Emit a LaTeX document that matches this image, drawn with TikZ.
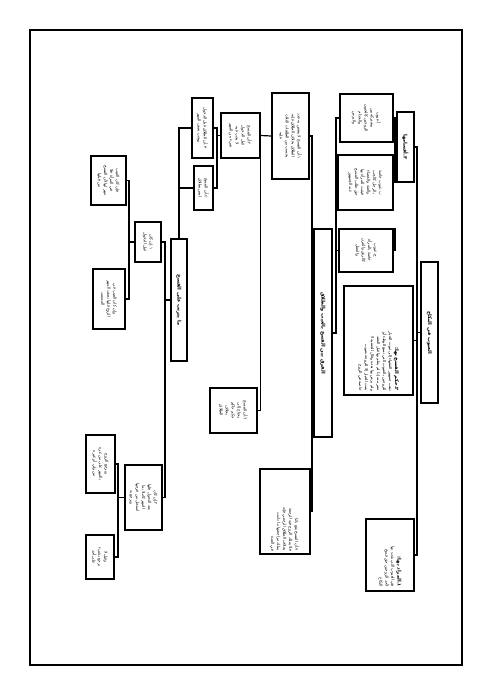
\documentclass[tikz,border=0pt]{standalone}
\usepackage{graphicx}
\usepackage{fontspec}
\newfontfamily\arabicfont[Script=Arabic]{DejaVu Sans}
\TeXXeTstate=1
\newcommand{\arl}[1]{\beginR #1\endR}
% text turned a quarter clockwise, #2 = length along the line
\newcommand{\sidetext}[3][\centering]{\rotatebox{-90}{\begin{minipage}{#2}#1\arabicfont\fontsize{4}{6}\selectfont #3\end{minipage}}}
\newcommand{\sidehead}[3][5]{\rotatebox{-90}{\begin{minipage}{#2}\centering\arabicfont\bfseries\fontsize{#1}{7}\selectfont #3\end{minipage}}}
\newcommand{\boldline}[1]{{\bfseries\fontsize{5}{6}\selectfont\arl{#1}}}

\begin{document}
\begin{tikzpicture}[x=1pt, y=-1pt,
    box/.style={draw, rectangle, line width=1.4pt, inner sep=0pt},
    link/.style={line width=1.2pt}]
    \useasboundingbox (0,0) rectangle (491,694);
    \draw[line width=1.3pt] (30,30) rectangle (462,665);

    % Nodes: first tree
    \node[box, minimum width=17pt, minimum height=141pt] (faults) at (429.5,332.5) {\sidehead{130pt}{\arl{العيوب في النكاح}}};
    \node[box, minimum width=48pt, minimum height=72pt] (meaning) at (390,555) {\sidetext[\raggedleft]{64pt}{\boldline{١.المراد بها:}\\ \arl{هي العيوب التي يثبت بها}\\ \arl{لأحد الزوجين حق فسخ}\\ \arl{النكاح}}};
    \node[box, minimum width=69pt, minimum height=109pt] (ruling) at (378.5,340.5) {\sidetext[\raggedleft]{101pt}{\boldline{٢.حكم الفسخ بها:}\\ \arl{ذهب جمهور الفقهاء إلى ثبوت الخيار}\\ \arl{للزوجين بالعيوب التي تمنع الوطء أو}\\ \arl{تنفر منه إذا لم يعلم بها قبل العقد}\\ \arl{ولم يرض بها بعده وقال الحنفية لا}\\ \arl{يثبت الخيار إلا للزوجة بعيوب}\\ \arl{خاصة في الزوج}}};
    \node[box, minimum width=17pt, minimum height=70pt] (kinds) at (405.5,147) {\sidehead{62pt}{\arl{٣.أقسامها}}};
    \node[box, minimum width=53pt, minimum height=48pt] (kindA) at (366.5,118) {\sidetext{42pt}{\arl{أ.عيوب}\\ \arl{مشتركة بين}\\ \arl{الزوجين كالجنون}\\ \arl{والجذام}\\ \arl{والبرص}}};
    \node[box, minimum width=55pt, minimum height=55pt] (kindB) at (365.5,182.5) {\sidetext{49pt}{\arl{ب.عيوب خاصة}\\ \arl{بالرجل كالجب}\\ \arl{والعنة والخصاء}\\ \arl{فيثبت للمرأة بها}\\ \arl{حق طلب الفسخ}\\ \arl{عند الجمهور}}};
    \node[box, minimum width=54pt, minimum height=43pt] (kindC) at (366,250.5) {\sidetext{37pt}{\arl{ج.عيوب}\\ \arl{خاصة بالمرأة}\\ \arl{كالرتق والقرن}\\ \arl{والعفل}}};

    % Nodes: second tree
    \node[box, minimum width=18pt, minimum height=208pt] (diff) at (323,333) {\sidehead{198pt}{\arl{الفرق بين الفسخ بالعيب والطلاق}}};
    \node[box, minimum width=37pt, minimum height=86pt] (diffA) at (290.5,136) {\sidetext{80pt}{\arl{١.أن الفسخ لا ينقص به عدد}\\ \arl{الطلاق بخلاف الطلاق فإنه}\\ \arl{يحسب من الطلقات الثلاث}\\ \arl{عليه}}};
    \node[box, minimum width=50pt, minimum height=85pt] (diffB) at (285,511.5) {\sidetext[\raggedleft]{79pt}{\arl{٧.أن الفسخ يقع بائنا}\\ \arl{فلا يملك الزوج فيه الرجعة}\\ \arl{بخلاف الطلاق الرجعي فإنه}\\ \arl{يملك مراجعتها ما دامت}\\ \arl{في العدة}}};
    \node[box, minimum width=39pt, minimum height=45pt] (diffC) at (240.5,135.5) {\sidetext{39pt}{\arl{٢.أن الفسخ}\\ \arl{قبل الدخول}\\ \arl{لا يجب فيه}\\ \arl{شيء من المهر}}};
    \node[box, minimum width=47pt, minimum height=45pt] (diffD) at (233.5,410.5) {\sidetext{39pt}{\arl{٦.أن الفسخ}\\ \arl{يحتاج إلى}\\ \arl{حكم حاكم}\\ \arl{بخلاف}\\ \arl{الطلاق}}};
    \node[box, minimum width=21pt, minimum height=60pt] (diffE) at (202.5,128) {\sidetext{54pt}{\arl{٣.أن الطلاق قبل الدخول}\\ \arl{يوجب نصف المهر}}};
    \node[box, minimum width=19pt, minimum height=44pt] (diffF) at (203.5,188) {\sidetext{38pt}{\arl{٤.أن الفسخ}\\ \arl{ليس بطلاق}}};

    % Nodes: third tree
    \node[box, minimum width=16pt, minimum height=122pt] (effects) at (179,300) {\sidehead{114pt}{\arl{ما يترتب على الفسخ}}};
    \node[box, minimum width=26pt, minimum height=40pt] (effA) at (148,242) {\sidetext{34pt}{\arl{١.إن كان}\\ \arl{قبل الدخول}}};
    \node[box, minimum width=35pt, minimum height=49pt] (effA1) at (108.5,180.5) {\sidetext{43pt}{\arl{فإن كان العيب}\\ \arl{في المرأة فلا}\\ \arl{مهر لها لأن الفسخ}\\ \arl{من قبلها}}};
    \node[box, minimum width=32pt, minimum height=60pt] (effA2) at (109,299) {\sidetext{54pt}{\arl{وإن كان العيب في}\\ \arl{الزوج فلها نصف المهر}\\ \arl{المسمى}}};
    \node[box, minimum width=37pt, minimum height=65pt] (effB) at (143.5,497.5) {\sidetext{59pt}{\arl{٢.إن كان}\\ \arl{بعد الدخول فلها}\\ \arl{المهر كاملا بما}\\ \arl{استحل من فرجها}\\ \arl{ويرجع به}}};
    \node[box, minimum width=29pt, minimum height=58pt] (effB1) at (100.5,464) {\sidetext{52pt}{\arl{ويرجع الزوج}\\ \arl{بالمهر على من غره}\\ \arl{من ولي أو غيره}}};
    \node[box, minimum width=28pt, minimum height=44pt] (effB2) at (100,557) {\sidetext{38pt}{\arl{وقيل لا}\\ \arl{يرجع بشيء}\\ \arl{على أحد}}};

    % Buses
    \coordinate (busR) at (417,0);
    \coordinate (busK) at (395,0);
    \coordinate (busG) at (336,0);
    \coordinate (busD) at (312,0);
    \coordinate (busT) at (217,0);
    \coordinate (busE) at (165,0);
    \coordinate (busU) at (129,0);
    \coordinate (busW) at (118,0);

    % Links: first tree
    \draw[link] (kinds.east) -| (busR |- meaning.east) -- (meaning.east);
    \draw[link] (ruling.east) -- (ruling.east -| busR);
    \draw[link] (faults.west) -- (faults.west -| busR);
    \draw[link] (kindA.east) -| (busK |- kindB.east) -- (kindB.east);
    \draw[link] (kinds.west) -- (kinds.west -| busK);
    \draw[link] (kindC.east) -- (kindC.east -| busK) -- (kindC.north -| busK);
    \draw[link] (kindA.west) -| (busG |- diff.east) -- (diff.east);
    \draw[link] (kindB.west) -- (kindB.west -| busG);
    \draw[link] (kindC.west) -- (kindC.west -| busG);

    % Links: second tree
    \draw[link] (diffA.east) -| (busD |- diffB.east) -- (diffB.east);
    \draw[link] (diff.west) -- (diff.west -| busD);
    \draw[link] (diffC.east) -- (diffA.west);
    \draw[link] (diffC.east) |- (diffD.east);
    \draw[link] (diffE.east) -| (busT |- diffF.east) -- (diffF.east);
    \draw[link] (diffC.west) -- (diffC.west -| busT);
    \draw[link] (diffE.west) -| (effects.north);
    \draw[link] (diffF.west) -- (diffF.west -| effects.north);

    % Links: third tree
    \draw[link] (effA.east) -| (busE |- effB.east) -- (effB.east);
    \draw[link] (effects.west) -- (effects.west -| busE);
    \draw[link] (effA1.east) -| (busU |- effA2.east) -- (effA2.east);
    \draw[link] (effA.west) -- (effA.west -| busU);
    \draw[link] (effB1.east) -| (busW |- effB2.east) -- (effB2.east);
    \draw[link] (effB.west) -- (effB.west -| busW);
\end{tikzpicture}
\end{document}
